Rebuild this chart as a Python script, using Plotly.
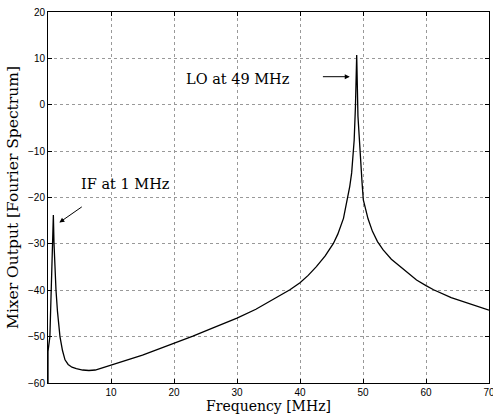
import plotly.graph_objects as go

freq_mhz = [0, 0.0, 0.3, 0.85, 0.95, 1.1, 1.27, 1.5, 1.9, 2.3, 2.7, 3.2, 3.8, 4.5, 5.5, 6.5,
            7.5, 8.5, 10, 12, 15, 18, 20, 23, 26, 30, 33, 36, 38.4, 40, 41.3, 42.6, 44, 45.3, 46,
            46.9, 47.5, 47.9, 48.2, 48.6, 48.8, 49.0, 49.2, 49.4, 49.7, 49.85, 50.05, 50.4, 50.8,
            51.5, 52.3, 53.2, 54.5, 55.9, 57, 58.5, 60, 61.2, 64, 67, 70]
spectrum_db = [-61, -53.2, -50, -23.8, -29.8, -35.5, -40, -44.5, -50, -53, -55, -56.0, -56.6,
               -56.9, -57.2, -57.3, -57.2, -56.8, -56.1, -55.3, -54.0, -52.5, -51.4, -49.9,
               -48.2, -46.0, -44.1, -41.8, -39.9, -38.4, -36.8, -34.9, -32.6, -29.9, -27.9, -24.5,
               -20.5, -17.6, -14.7, -7.6, -0.4, 10.7, -2.5, -7.6, -14.7, -16.8, -20.5, -22.2, -24.6,
               -27.3, -29.5, -31.3, -33.3, -34.9, -36.2, -37.8, -39.0, -39.9, -41.6, -43.0, -44.3]

x_ticks = [10, 20, 30, 40, 50, 60, 70]
y_ticks = [-60, -50, -40, -30, -20, -10, 0, 10, 20]

serif = "Century Schoolbook L, DejaVu Serif, Liberation Serif, serif"
sans = "Liberation Sans, Arial, sans-serif"

fig = go.Figure()
fig.add_trace(go.Scatter(x=freq_mhz, y=spectrum_db, mode="lines",
                         line=dict(color="black", width=1.3), showlegend=False))

axis_common = dict(showline=True, linecolor="black", linewidth=1, mirror="ticks",
                   ticks="inside", ticklen=4, tickcolor="black", tickwidth=1,
                   showgrid=True, gridcolor="#999999", griddash="dot", gridwidth=1,
                   zeroline=False, ticklabeloverflow="allow", automargin=False,
                   tickfont=dict(family=sans, size=10, color="black"))

fig.update_xaxes(range=[0, 70], tickvals=x_ticks, ticktext=[str(v) for v in x_ticks],
                 title=dict(text="Frequency [MHz]", font=dict(family=serif, size=14, color="black"),
                            standoff=2),
                 **axis_common)
fig.update_yaxes(range=[-60, 20], tickvals=y_ticks, ticktext=[f"\u2212{-v}" if v < 0 else str(v) for v in y_ticks],
                 title=dict(text="Mixer Output [Fourier Spectrum]",
                            font=dict(family=serif, size=15.5, color="black"), standoff=5),
                 **axis_common)

fig.add_annotation(x=47.9, y=6.05, ax=43.4, ay=6.05, xref="x", yref="y", axref="x", ayref="y",
                   text="", showarrow=True, arrowhead=2, arrowsize=1, arrowwidth=1, arrowcolor="black")
fig.add_annotation(x=30.2, y=5.6, xref="x", yref="y", text="LO at 49 MHz", showarrow=False,
                   font=dict(family=serif, size=14.5, color="black"))
fig.add_annotation(x=1.8, y=-25.4, ax=5.6, ay=-21.8, xref="x", yref="y", axref="x", ayref="y",
                   text="", showarrow=True, arrowhead=2, arrowsize=1, arrowwidth=1, arrowcolor="black")
fig.add_annotation(x=12.3, y=-17.0, xref="x", yref="y", text="IF at 1 MHz", showarrow=False,
                   font=dict(family=serif, size=14.5, color="black"))

fig.update_layout(width=493, height=416, margin=dict(l=48, r=4, t=12, b=33),
                  plot_bgcolor="white", paper_bgcolor="white")

fig.write_html("out.html")
